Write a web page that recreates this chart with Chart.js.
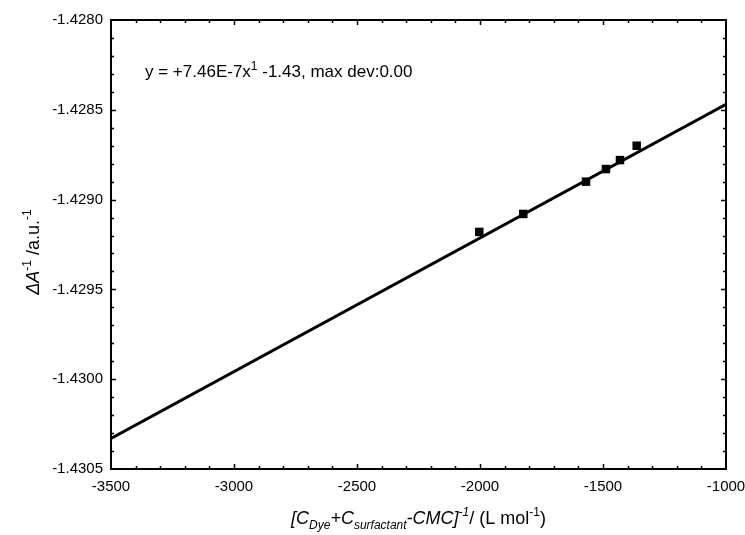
<!DOCTYPE html>
<html lang="en">
<head>
  <meta charset="UTF-8">
  <title>Linear fit</title>
  <script src="https://cdn.jsdelivr.net/npm/chart.js"></script>
  <style>
    body { margin: 0; background: #fff; }
    canvas { display: block; }
  </style>
</head>
<body>
<canvas id="fitChart" width="745" height="535"></canvas>
<script>
  // measured points
  const pointX = [-2003, -1824, -1569, -1488, -1431, -1363];
  const pointY = [-1.42918, -1.42908, -1.42890, -1.42883, -1.42878, -1.42870];
  // fitted line, end points
  const fitX = [-3500, -1000];
  const fitY = [-1.43033, -1.42847];

  const FONT = '"Liberation Sans", Arial, sans-serif';

  const equation = [
    { t: 'y = +7.46E-7x' },
    { t: '1', sup: true },
    { t: ' -1.43, max dev:0.00' }
  ];
  const xTitle = [
    { t: '[C', it: true },
    { t: 'Dye', it: true, sub: true },
    { t: '+C', it: true },
    { t: 'surfactant', it: true, sub: true },
    { t: '-CMC]', it: true },
    { t: '-1', it: true, sup: true },
    { t: '/ (L mol' },
    { t: '-1', sup: true },
    { t: ')' }
  ];
  const yTitle = [
    { t: '\u0394A', it: true },
    { t: '-1', sup: true },
    { t: ' /a.u.' },
    { t: '-1', sup: true }
  ];

  function segFont(s, size) {
    const sz = (s.sub || s.sup) ? Math.round(size * 0.68) : size;
    return (s.it ? 'italic ' : '') + sz + 'px ' + FONT;
  }

  function drawRich(ctx, segs, x, y, size, align) {
    let w = 0;
    segs.forEach(s => { ctx.font = segFont(s, size); w += ctx.measureText(s.t).width; });
    let cx = align === 'center' ? x - w / 2 : x;
    ctx.textAlign = 'left';
    ctx.textBaseline = 'alphabetic';
    segs.forEach(s => {
      ctx.font = segFont(s, size);
      let dy = 0;
      if (s.sub) dy = size * 0.3;
      if (s.sup) dy = -size * 0.42;
      ctx.fillText(s.t, cx, y + dy);
      cx += ctx.measureText(s.t).width;
    });
  }

  const decor = {
    id: 'decor',
    afterDraw(chart) {
      const ctx = chart.ctx;
      const a = chart.chartArea;
      const xs = chart.scales.x, ys = chart.scales.y;
      ctx.save();
      ctx.strokeStyle = '#000';
      ctx.fillStyle = '#000';
      ctx.lineWidth = 1.5;
      ctx.beginPath();
      xs.ticks.forEach(t => {
        if (t.value <= xs.min || t.value >= xs.max) return;
        const px = Math.round(xs.getPixelForValue(t.value)) + 0.5;
        const len = Math.round(t.value) % 500 === 0 ? 5 : 3;
        ctx.moveTo(px, a.bottom); ctx.lineTo(px, a.bottom - len);
        ctx.moveTo(px, a.top); ctx.lineTo(px, a.top + len);
      });
      ys.ticks.forEach(t => {
        if (t.value <= ys.min + 1e-9 || t.value >= ys.max - 1e-9) return;
        const py = Math.round(ys.getPixelForValue(t.value)) + 0.5;
        const len = Math.round(t.value * 10000) % 5 === 0 ? 5 : 3;
        ctx.moveTo(a.left, py); ctx.lineTo(a.left + len, py);
        ctx.moveTo(a.right, py); ctx.lineTo(a.right - len, py);
      });
      ctx.stroke();
      // frame
      ctx.lineWidth = 2;
      ctx.strokeRect(a.left, a.top, a.right - a.left, a.bottom - a.top);

      drawRich(ctx, equation, 145, 77, 17, 'left');
      drawRich(ctx, xTitle, (a.left + a.right) / 2, 524, 18, 'center');

      ctx.translate(39, 252);
      ctx.rotate(-Math.PI / 2);
      drawRich(ctx, yTitle, 0, 0, 18, 'center');
      ctx.restore();
    }
  };

  const ctx = document.getElementById('fitChart').getContext('2d');
  new Chart(ctx, {
    type: 'scatter',
    data: {
      datasets: [
        {
          label: 'data',
          data: pointX.map((x, i) => ({ x: x, y: pointY[i] })),
          pointStyle: 'rect',
          pointRadius: 6,
          backgroundColor: '#000',
          borderColor: '#000',
          borderWidth: 0,
          showLine: false
        },
        {
          label: 'fit',
          data: fitX.map((x, i) => ({ x: x, y: fitY[i] })),
          showLine: true,
          borderColor: '#000',
          borderWidth: 3,
          pointRadius: 0,
          fill: false
        }
      ]
    },
    options: {
      responsive: false,
      animation: false,
      layout: { padding: { top: 20, right: 19, left: 0, bottom: 0 } },
      plugins: { legend: { display: false }, tooltip: { enabled: false } },
      scales: {
        x: {
          type: 'linear',
          min: -3500,
          max: -1000,
          grid: { display: false, drawTicks: false },
          border: { display: false },
          ticks: {
            stepSize: 100,
            autoSkip: false,
            maxRotation: 0,
            padding: 9,
            color: '#000',
            font: { family: FONT, size: 15 },
            callback: v => (Math.round(v) % 500 === 0 ? String(Math.round(v)) : '')
          },
          afterFit(scale) {
            scale.height = 66;
            scale.paddingLeft = 0;
            scale.paddingRight = 0;
          }
        },
        y: {
          type: 'linear',
          min: -1.4305,
          max: -1.4280,
          grid: { display: false, drawTicks: false },
          border: { display: false },
          ticks: {
            stepSize: 0.0001,
            autoSkip: false,
            padding: 8,
            color: '#000',
            font: { family: FONT, size: 15 },
            callback: v => (Math.round(v * 10000) % 5 === 0 ? v.toFixed(4) : '')
          },
          afterFit(scale) {
            scale.width = 111;
            scale.paddingTop = 0;
            scale.paddingBottom = 0;
          }
        }
      }
    },
    plugins: [decor]
  });
</script>
</body>
</html>
